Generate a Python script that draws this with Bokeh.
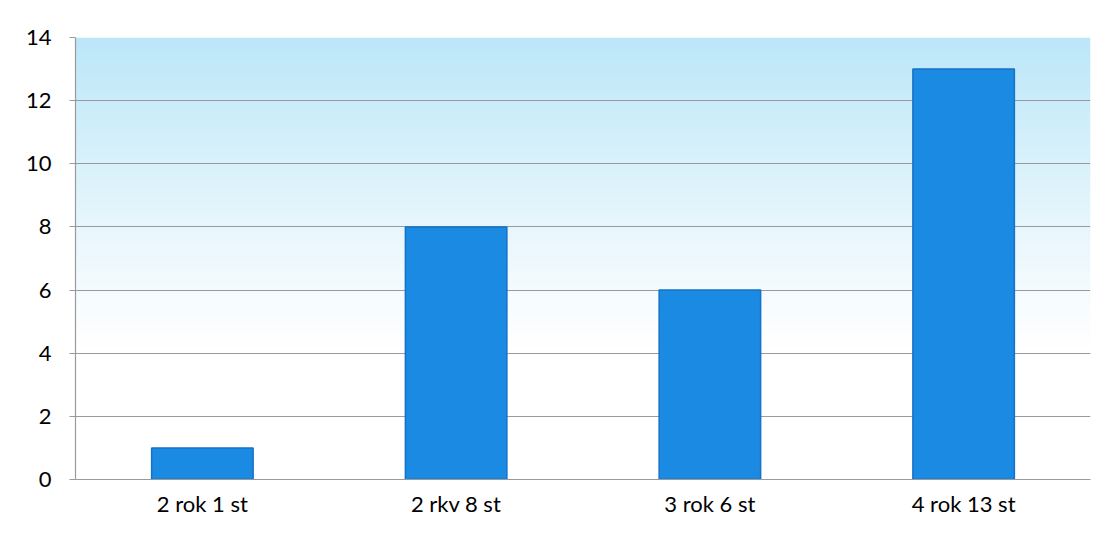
import numpy as np
from bokeh.plotting import figure
from bokeh.models import ColumnDataSource, FactorRange, Range1d, FixedTicker
from bokeh.embed import file_html
from bokeh.resources import INLINE

categories = ["2 rok 1 st", "2 rkv 8 st", "3 rok 6 st", "4 rok 13 st"]
values = [1, 8, 6, 13]
y_ticks = [0, 2, 4, 6, 8, 10, 12, 14]

FONT = "Lato"

p = figure(width=1109, height=539, x_range=FactorRange(*categories, range_padding=0),
           y_range=Range1d(0, 14), output_backend="svg", toolbar_location=None,
           min_border_left=75, min_border_right=19, min_border_top=37, min_border_bottom=60)
p.background_fill_color = "white"
p.border_fill_color = "white"
p.outline_line_color = None

# background gradient (light blue at top fading to white)
n = 200
t = np.linspace(0, 1, n)  # 0 bottom, 1 top
w = np.clip((t - 0.3) / 0.7, 0, 1) ** 1.1
top = np.array([188, 231, 249])
bot = np.array([255, 255, 255])
cols = (bot[None, :] * (1 - w[:, None]) + top[None, :] * w[:, None]).astype(np.uint32)
img = np.empty((n, 1), dtype=np.uint32)
view = img.view(dtype=np.uint8).reshape((n, 1, 4))
view[:, 0, 0] = cols[:, 0]
view[:, 0, 1] = cols[:, 1]
view[:, 0, 2] = cols[:, 2]
view[:, 0, 3] = 255
p.image_rgba(image=[img], x=0, y=0, dw=4, dh=14, level="image")

src = ColumnDataSource(dict(cat=categories, val=values))
p.vbar(x="cat", top="val", width=0.4, source=src, fill_color="#1b8ae3",
       line_color="#1472c8", line_width=1.5)

p.yaxis.ticker = FixedTicker(ticks=y_ticks)
p.ygrid.ticker = FixedTicker(ticks=y_ticks)
p.xgrid.grid_line_color = None
p.ygrid.grid_line_color = "#9a9a9a"
p.ygrid.grid_line_width = 1.2

for ax in (p.xaxis[0], p.yaxis[0]):
    ax.axis_line_color = "#9a9a9a"
    ax.axis_line_width = 1.2
    ax.major_tick_line_color = "#9a9a9a"
    ax.minor_tick_line_color = None
    ax.major_label_text_font = FONT
    ax.major_label_text_font_size = "22px"
    ax.major_label_text_color = "#000000"

p.yaxis.major_tick_out = 6
p.yaxis.major_tick_in = 0
p.yaxis.major_label_standoff = 18
p.xaxis.major_tick_out = 0
p.xaxis.major_tick_in = 0
p.xaxis.major_label_standoff = 10

open("out.html", "w").write(file_html(p, INLINE))
